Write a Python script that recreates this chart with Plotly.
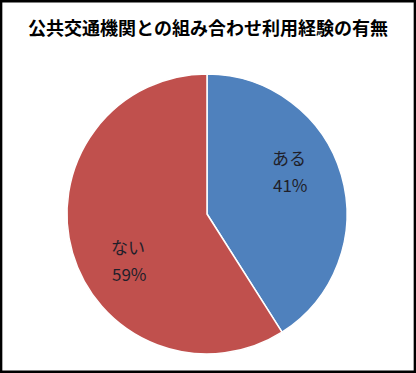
import plotly.graph_objects as go

title = "公共交通機関との組み合わせ利用経験の有無"
labels = ["ある", "ない"]
values = [41, 59]
colors = ["#4F81BD", "#C0504D"]

W, H = 416, 373
cx, cy, r = 207, 214, 140
# label anchor positions (pixel, from top-left) for the name and percentage lines
label_px = [((289, 157), (290, 184)), ((128, 246), (129, 273))]

fig = go.Figure(go.Pie(
    labels=labels, values=values, sort=False, direction="clockwise", rotation=0,
    marker=dict(colors=colors, line=dict(color="white", width=1.5)),
    textinfo="none",
    domain=dict(x=[(cx - r) / W, (cx + r) / W], y=[(H - cy - r) / H, (H - cy + r) / H]),
    showlegend=False, hoverinfo="skip",
))

total = sum(values)
annots = []
font = dict(family="Noto Sans CJK JP", size=17, color="#1f1f2a")
for lab, val, (p1, p2) in zip(labels, values, label_px):
    pct = f"{round(100 * val / total)}%"
    for txt, (x, y) in ((lab, p1), (pct, p2)):
        annots.append(dict(text=txt, x=x / W, y=1 - y / H, xref="paper", yref="paper",
                           xanchor="center", yanchor="middle", showarrow=False, font=font))

fig.update_layout(
    width=W, height=H, margin=dict(l=0, r=0, t=0, b=0),
    paper_bgcolor="white",
    title=dict(text="<b>" + title + "</b>", x=0.5, xanchor="center", y=1 - 29 / H, yanchor="middle",
               font=dict(family="Noto Sans CJK JP", size=18, color="black")),
    shapes=[dict(type="rect", xref="paper", yref="paper", x0=0.002, y0=0.003, x1=0.998, y1=0.997,
                 line=dict(color="black", width=3))],
    annotations=annots,
)
fig.write_html("out.html")
